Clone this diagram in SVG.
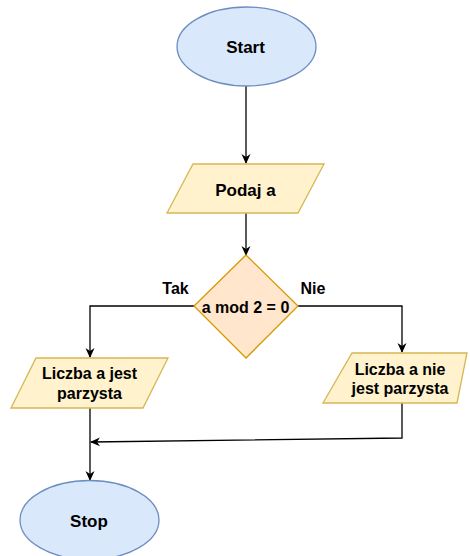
<svg xmlns="http://www.w3.org/2000/svg" width="470" height="556" viewBox="0 0 470 556">
  <style>
    .term { fill: #dae8fc; stroke: #6c8ebf; stroke-width: 1.3; }
    .io { fill: #fff2cc; stroke: #d6b656; stroke-width: 1.3; }
    .dec { fill: #ffe6cc; stroke: #d79b00; stroke-width: 1.3; }
    .edge { fill: none; stroke: #000; stroke-width: 1.3; }
    text { font-family: "Liberation Sans", Arial, sans-serif; font-weight: bold; fill: #000; text-anchor: middle; }
    .big { font-size: 17px; }
    .med { font-size: 16px; }
  </style>
  <defs>
    <marker id="arrow" viewBox="0 0 10 10" refX="9" refY="5" markerWidth="10" markerHeight="10" markerUnits="userSpaceOnUse" orient="auto">
      <path d="M0,0.5 L10,5 L0,9.5 L3,5 Z" fill="#000"/>
    </marker>
  </defs>

  <g id="connectors">
    <path class="edge" d="M246,86 L246,163" marker-end="url(#arrow)"/>
    <path class="edge" d="M246,213 L246,255" marker-end="url(#arrow)"/>
    <path class="edge" d="M194,306 L90,306 L90,357" marker-end="url(#arrow)"/>
    <path class="edge" d="M298,306 L402,306 L402,352" marker-end="url(#arrow)"/>
    <path class="edge" d="M402,403 L402,438 L91,442" marker-end="url(#arrow)"/>
    <path class="edge" d="M90,408 L90,480" marker-end="url(#arrow)"/>
  </g>

  <g id="start">
    <ellipse class="term" cx="246.5" cy="46.5" rx="69.5" ry="39.5"/>
    <text class="big" x="245.5" y="53">Start</text>
  </g>

  <g id="input">
    <polygon class="io" points="193,164 324,164 298,213 167,213"/>
    <text class="big" x="245.5" y="196">Podaj a</text>
  </g>

  <g id="decision">
    <polygon class="dec" points="246,255 298,306 246,358 194,306"/>
    <text class="med" x="245.5" y="313">a mod 2 = 0</text>
  </g>

  <g id="label-yes">
    <text class="med" x="175.5" y="294">Tak</text>
  </g>

  <g id="label-no">
    <text class="med" x="313" y="294">Nie</text>
  </g>

  <g id="even">
    <polygon class="io" points="36,358 168,358 143,408 11,408"/>
    <text class="med" x="89.5" y="379">Liczba a jest</text>
    <text class="med" x="89.5" y="399">parzysta</text>
  </g>

  <g id="odd">
    <polygon class="io" points="352,353 467,353 457,403 323,403"/>
    <text class="med" x="400" y="375">Liczba a nie</text>
    <text class="med" x="400" y="394">jest parzysta</text>
  </g>

  <g id="stop">
    <ellipse class="term" cx="89.5" cy="520" rx="69.5" ry="39.5"/>
    <text class="big" x="89" y="527">Stop</text>
  </g>
</svg>
